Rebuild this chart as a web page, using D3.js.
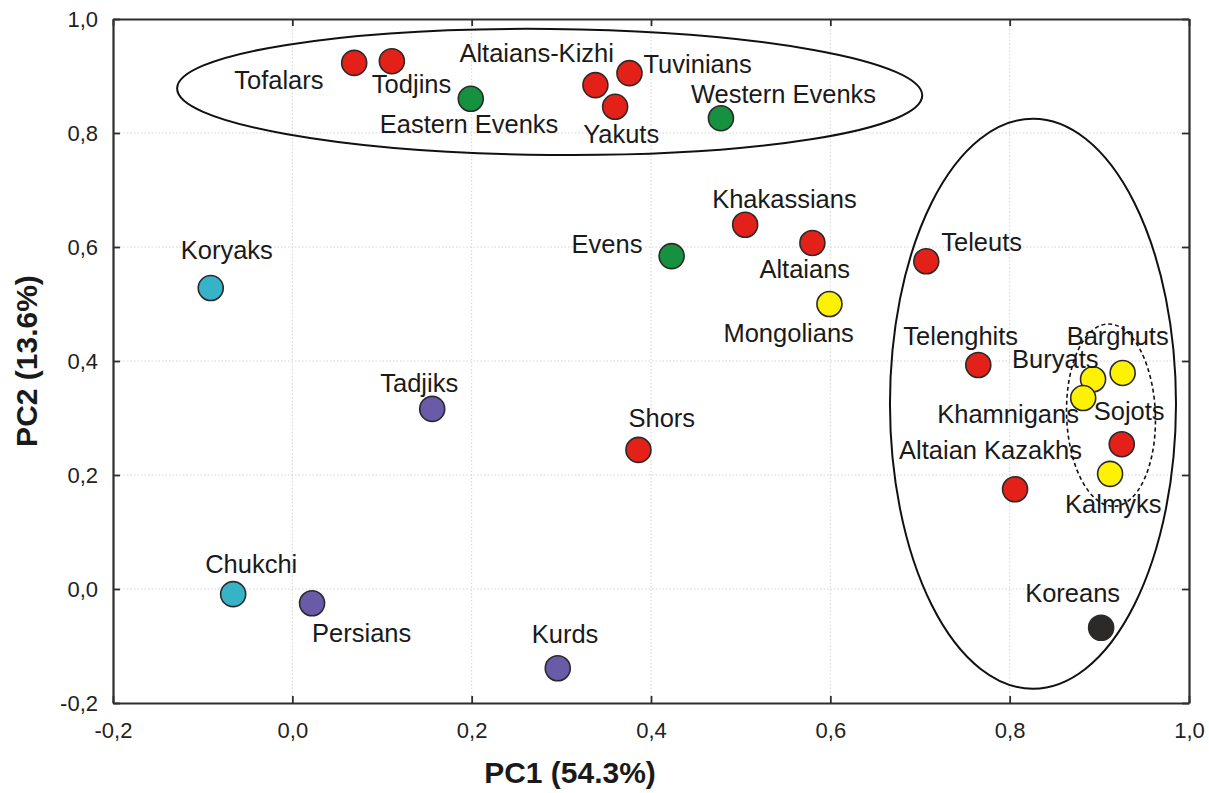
<!DOCTYPE html>
<html>
<head>
<meta charset="utf-8">
<script src="https://cdn.jsdelivr.net/npm/d3@7"></script>
<style>
  html, body { margin: 0; padding: 0; background: #fff; }
  svg { display: block; font-family: "Liberation Sans", Arial, sans-serif; }
</style>
</head>
<body>
<svg id="chart" width="1209" height="793"></svg>
<script>
// Population names and their PCA scores
const populations = [
  "Tofalars", "Todjins", "Eastern Evenks", "Altaians-Kizhi", "Tuvinians", "Yakuts",
  "Western Evenks", "Khakassians", "Altaians", "Evens", "Mongolians", "Koryaks",
  "Teleuts", "Telenghits", "Buryats", "Barghuts", "Khamnigans", "Sojots",
  "Kalmyks", "Altaian Kazakhs", "Koreans", "Kurds", "Shors", "Tadjiks",
  "Chukchi", "Persians"
];
const pc1 = [
  0.069, 0.111, 0.199, 0.338, 0.376, 0.360,
  0.478, 0.505, 0.580, 0.423, 0.599, -0.091,
  0.707, 0.765, 0.893, 0.926, 0.882, 0.925,
  0.912, 0.806, 0.902, 0.296, 0.386, 0.156,
  -0.066, 0.022
];
const pc2 = [
  0.923, 0.926, 0.860, 0.884, 0.905, 0.846,
  0.826, 0.639, 0.607, 0.584, 0.500, 0.528,
  0.575, 0.393, 0.368, 0.379, 0.335, 0.254,
  0.202, 0.175, -0.068, -0.139, 0.244, 0.316,
  -0.009, -0.025
];
const groups = [
  "Turkic", "Turkic", "Tungusic", "Turkic", "Turkic", "Turkic",
  "Tungusic", "Turkic", "Turkic", "Tungusic", "Mongolic", "Paleoasiatic",
  "Turkic", "Turkic", "Mongolic", "Mongolic", "Mongolic", "Turkic",
  "Mongolic", "Turkic", "Korean", "Iranian", "Turkic", "Iranian",
  "Paleoasiatic", "Iranian"
];

// Label placement relative to each marker (pixels: start x, baseline y)
const labelOffsets = [
  [-120, 26], [-20, 32], [-91, 34], [-136, -23], [14, 0], [-32, 36],
  [-30, -15], [-33, -17], [-53, 35], [-100, -3], [-106, 38], [-30, -29],
  [15, -10], [-75, -20], [-81, -11], [-56, -28], [-146, 25], [-28, -24],
  [-45, 39], [-116, -30], [-76, -26], [-26, -25], [-10, -23], [-52, -17],
  [-28, -21], [0, 39]
];

const groupNames = ["Turkic", "Tungusic", "Mongolic", "Paleoasiatic", "Iranian", "Korean"];
const groupColors = ["#e32119", "#16913f", "#fff200", "#36b3c6", "#6a5ba8", "#2b2a29"];

// Cluster outlines: centre (PC1, PC2), semi-axes in data units, rotation (deg)
const clusterCx = [0.287, 0.826, 0.913];
const clusterCy = [0.872, 0.325, 0.305];
const clusterRx = [0.4155, 0.1595, 0.0495];
const clusterRy = [0.1105, 0.500, 0.160];
const clusterRot = [0.55, 0, -2];
const clusterDashed = [false, false, true];

const xTicks = [-0.2, 0.0, 0.2, 0.4, 0.6, 0.8, 1.0];
const yTicks = [-0.2, 0.0, 0.2, 0.4, 0.6, 0.8, 1.0];
const xTitle = "PC1 (54.3%)";
const yTitle = "PC2 (13.6%)";

const svg = d3.select("#chart");
const margin = { left: 113, top: 19, right: 20, bottom: 90 };
const W = 1209, H = 793;
const plotW = W - margin.left - margin.right;   // 1076
const plotH = H - margin.top - margin.bottom;   // 684

const x = d3.scaleLinear().domain([-0.2, 1.0]).range([0, plotW]);
const y = d3.scaleLinear().domain([-0.2, 1.0]).range([plotH, 0]);
const color = d3.scaleOrdinal().domain(groupNames).range(groupColors);

const fmt = v => d3.format(".1f")(v).replace(".", ",").replace("\u2212", "-");

const g = svg.append("g").attr("transform", `translate(${margin.left},${margin.top})`);

// dotted grid
g.append("g").selectAll("line.vx").data(xTicks.slice(1, -1)).join("line")
  .attr("x1", d => x(d)).attr("x2", d => x(d)).attr("y1", 0).attr("y2", plotH)
  .attr("stroke", "#d4d4d4").attr("stroke-width", 1).attr("stroke-dasharray", "1.5,2");
g.append("g").selectAll("line.hy").data(yTicks.slice(1, -1)).join("line")
  .attr("y1", d => y(d)).attr("y2", d => y(d)).attr("x1", 0).attr("x2", plotW)
  .attr("stroke", "#d4d4d4").attr("stroke-width", 1).attr("stroke-dasharray", "1.5,2");

// axes with inward ticks on all four sides
function styleAxis(sel) {
  sel.select(".domain").attr("stroke", "#2e2e2e").attr("stroke-width", 2.2);
  sel.selectAll(".tick line").attr("stroke", "#2e2e2e").attr("stroke-width", 1.8);
  sel.selectAll(".tick text")
    .attr("font-family", "'Liberation Sans', Arial, sans-serif")
    .attr("font-size", 22).attr("fill", "#222");
}
g.append("g").attr("transform", `translate(0,${plotH})`)
  .call(d3.axisBottom(x).tickValues(xTicks).tickFormat(fmt).tickSizeInner(-7).tickSizeOuter(0).tickPadding(19))
  .call(styleAxis);
g.append("g")
  .call(d3.axisLeft(y).tickValues(yTicks).tickFormat(fmt).tickSizeInner(-7).tickSizeOuter(0).tickPadding(15))
  .call(styleAxis);
g.append("g")
  .call(d3.axisTop(x).tickValues(xTicks).tickFormat("").tickSizeInner(-7).tickSizeOuter(0))
  .call(styleAxis);
g.append("g").attr("transform", `translate(${plotW},0)`)
  .call(d3.axisRight(y).tickValues(yTicks).tickFormat("").tickSizeInner(-7).tickSizeOuter(0))
  .call(styleAxis);

// population markers
const pts = populations.map((name, i) => ({
  name, pc1: pc1[i], pc2: pc2[i], group: groups[i], off: labelOffsets[i]
}));
g.append("g").selectAll("circle").data(pts).join("circle")
  .attr("cx", d => x(d.pc1)).attr("cy", d => y(d.pc2))
  .attr("r", 12.5)
  .attr("fill", d => color(d.group))
  .attr("stroke", "#2a2a2a").attr("stroke-width", 1.6);

// population labels
g.append("g").selectAll("text").data(pts).join("text")
  .attr("x", d => x(d.pc1) + d.off[0])
  .attr("y", d => y(d.pc2) + d.off[1])
  .attr("font-size", 25.5)
  .attr("fill", "#1a1a1a")
  .text(d => d.name);

// cluster ellipses, drawn over markers and labels
const clusters = clusterCx.map((cx, i) => ({
  cx, cy: clusterCy[i], rx: clusterRx[i], ry: clusterRy[i], rot: clusterRot[i], dashed: clusterDashed[i]
}));
g.append("g").selectAll("ellipse").data(clusters).join("ellipse")
  .attr("transform", d => `translate(${x(d.cx)},${y(d.cy)}) rotate(${d.rot})`)
  .attr("rx", d => x(d.rx) - x(0))
  .attr("ry", d => y(0) - y(d.ry))
  .attr("fill", "none")
  .attr("stroke", "#111")
  .attr("stroke-width", d => d.dashed ? 1.6 : 2)
  .attr("stroke-dasharray", d => d.dashed ? "4,3" : null);

// axis titles
svg.append("text")
  .attr("x", 570).attr("y", 783)
  .attr("text-anchor", "middle")
  .attr("font-size", 30).attr("font-weight", "bold").attr("fill", "#1a1a1a")
  .text(xTitle);
svg.append("text")
  .attr("transform", `translate(37,${margin.top + plotH / 2}) rotate(-90)`)
  .attr("text-anchor", "middle")
  .attr("font-size", 30).attr("font-weight", "bold").attr("fill", "#1a1a1a")
  .text(yTitle);
</script>
</body>
</html>
